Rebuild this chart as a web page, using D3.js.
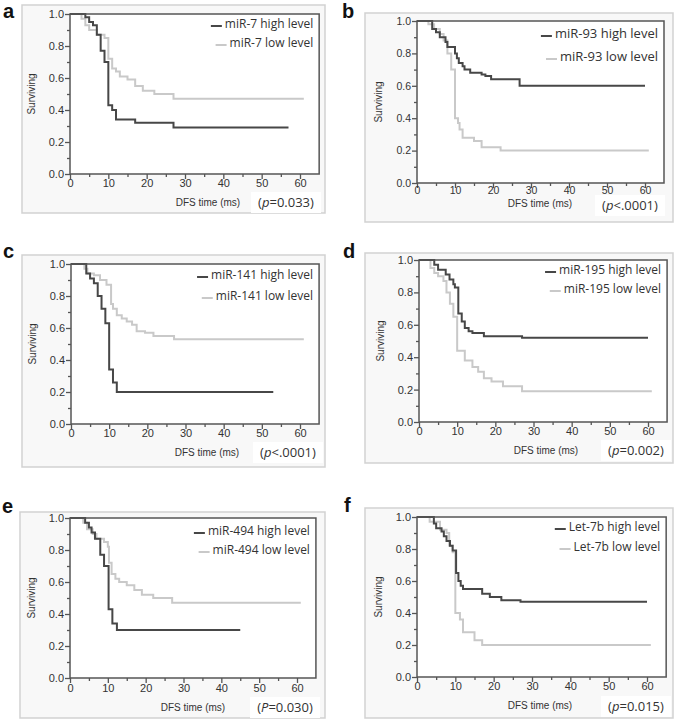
<!DOCTYPE html>
<html>
<head>
<meta charset="utf-8">
<script src="https://cdn.jsdelivr.net/npm/d3@7"></script>
<style>
  html, body { margin: 0; padding: 0; background: #fff; }
  svg { display: block; }
</style>
</head>
<body>
<svg id="chart" width="680" height="723"></svg>
<script>
// ---------- data ----------
const panelLabels = ["a", "b", "c", "d", "e", "f"];
const markerNames = ["miR-7", "miR-93", "miR-141", "miR-195", "miR-494", "Let-7b"];
const pSymbols = ["p", "p", "p", "p", "P", "p"];
const pTexts = ["=0.033", "<.0001", "<.0001", "=0.002", "=0.030", "=0.015"];
const xTicks = [0, 10, 20, 30, 40, 50, 60];
const xMinorTicks = [5, 15, 25, 35, 45, 55];
const yTicks = [0.0, 0.2, 0.4, 0.6, 0.8, 1.0];
const yMinorTicks = [0.1, 0.3, 0.5, 0.7, 0.9];

// Kaplan-Meier steps: [time, survival after step]; last point = end of follow-up
const highA = [[0,1],[4,0.98],[5,0.95],[6,0.93],[7,0.87],[8,0.77],[9,0.70],[10,0.43],[11,0.40],[12,0.34],[17,0.32],[27,0.29],[57,0.29]];
const lowA  = [[0,1],[3,0.97],[4,0.93],[5,0.90],[7,0.87],[9,0.85],[10,0.72],[11,0.66],[12,0.64],[13,0.61],[15,0.59],[17,0.55],[19,0.52],[22,0.50],[27,0.47],[61,0.47]];
const highB = [[0,1],[4,0.95],[5,0.93],[6,0.90],[7.5,0.87],[8,0.84],[10,0.80],[10.5,0.77],[11,0.74],[12,0.72],[12.5,0.70],[14,0.68],[17,0.67],[18,0.66],[19.5,0.64],[27,0.60],[60,0.60]];
const lowB  = [[0,1],[3,0.98],[4.5,0.95],[6,0.92],[7,0.88],[8,0.80],[9,0.70],[10,0.40],[10.8,0.37],[11.2,0.33],[12,0.28],[15,0.26],[17,0.22],[22,0.20],[61,0.20]];
const highC = [[0,1],[4,0.94],[5,0.91],[6,0.88],[7,0.80],[8,0.72],[9,0.63],[10,0.34],[11,0.26],[12,0.20],[53,0.20]];
const lowC  = [[0,1],[3.5,0.97],[4.3,0.94],[6,0.93],[7.6,0.90],[9.3,0.87],[10.5,0.75],[11,0.72],[12,0.68],[13.3,0.66],[14.6,0.64],[16,0.62],[17.2,0.58],[19.4,0.57],[21.6,0.55],[27,0.53],[61,0.53]];
const highD = [[0,1],[4,0.97],[5,0.94],[7,0.91],[8,0.88],[9,0.85],[9.4,0.83],[10.3,0.67],[11.2,0.62],[12,0.58],[13,0.56],[14,0.55],[17,0.53],[27,0.52],[60,0.52]];
const lowD  = [[0,1],[3,0.95],[4,0.92],[5,0.90],[6.4,0.87],[7.2,0.80],[8.1,0.73],[9,0.65],[10,0.44],[12,0.38],[14,0.34],[15.5,0.31],[17,0.27],[19,0.25],[22,0.22],[27,0.19],[61,0.19]];
const highE = [[0,1],[4,0.97],[5,0.94],[5.7,0.91],[6.6,0.87],[8,0.77],[9,0.70],[10.2,0.43],[11.2,0.34],[12.4,0.30],[45,0.30]];
const lowE  = [[0,1],[3.5,0.97],[4.5,0.93],[6,0.90],[7,0.87],[9,0.85],[10,0.82],[10.3,0.72],[11,0.65],[12,0.62],[13,0.60],[15,0.58],[17,0.55],[19,0.52],[22,0.50],[27,0.47],[61,0.47]];
const highF = [[0,1],[4.4,0.96],[5,0.93],[6.4,0.91],[7,0.88],[7.7,0.85],[8.6,0.82],[9.3,0.79],[10.2,0.65],[10.8,0.60],[11.4,0.57],[12,0.55],[17,0.52],[19,0.50],[22,0.48],[27,0.47],[60,0.47]];
const lowF  = [[0,1],[3.3,0.97],[6,0.92],[7.7,0.90],[8.4,0.82],[9.3,0.78],[10,0.40],[11.2,0.36],[12,0.28],[15,0.23],[17,0.20],[61,0.20]];

const highSeries = [highA, highB, highC, highD, highE, highF];
const lowSeries  = [lowA, lowB, lowC, lowD, lowE, lowF];

// ---------- layout (pixels) ----------
const layout = [
  {frame:[22,5,303,208],   x0:70,  x60:300, yTop:14,  yBot:174, lab:[3,18],    leg:[11,30], legFs:12, ttl:[208,29], pc:[286,207], tk:11, tkFs:11},
  {frame:[365,13,308,209], x0:417, x60:645, yTop:21,  yBot:183, lab:[342,18],  leg:[14,37], legFs:13, ttl:[540,21], pc:[630,210], tk:9,  tkFs:10.5},
  {frame:[22,255,303,212], x0:71,  x60:300, yTop:264, yBot:424, lab:[3,258],   leg:[12,33], legFs:12, ttl:[207,29], pc:[288,457], tk:11, tkFs:11},
  {frame:[365,253,308,210],x0:419, x60:648, yTop:260, yBot:422, lab:[343,258], leg:[11,30], legFs:12, ttl:[546,29], pc:[636,455], tk:11, tkFs:11},
  {frame:[20,512,305,206], x0:70,  x60:297, yTop:518, yBot:678, lab:[2,513],   leg:[14,33], legFs:12, ttl:[193,30], pc:[285,712], tk:12, tkFs:11},
  {frame:[365,508,308,210],x0:417, x60:647, yTop:517, yBot:677, lab:[344,512], leg:[11,31], legFs:12, ttl:[540,29], pc:[636,711], tk:11, tkFs:11}
];

const svg = d3.select("#chart");
const axisColor = "#555";
const highColor = "#474747";
const lowColor = "#c9c9c9";

layout.forEach((L, i) => {
  const g = svg.append("g");
  const xEnd = L.x0 + (L.x60 - L.x0) * 65 / 60;
  const x = d3.scaleLinear().domain([0, 65]).range([L.x0, xEnd]);
  const y = d3.scaleLinear().domain([0, 1]).range([L.yBot, L.yTop]);

  // panel letter
  g.append("text").attr("x", L.lab[0]).attr("y", L.lab[1])
    .attr("font-family", "Liberation Sans, Arial, sans-serif")
    .attr("font-weight", "bold").attr("font-size", 20).attr("fill", "#111")
    .text(panelLabels[i]);

  // frame
  g.append("rect").attr("x", L.frame[0]).attr("y", L.frame[1])
    .attr("width", L.frame[2]).attr("height", L.frame[3])
    .attr("fill", "#f8f8f8").attr("stroke", "#d2d2d2").attr("stroke-width", 1.5);

  // plot background
  g.append("rect").attr("x", L.x0).attr("y", L.yTop)
    .attr("width", xEnd - L.x0).attr("height", L.yBot - L.yTop)
    .attr("fill", "#fff");

  // p-value box
  const pBoxW = 70, pBoxH = 21;
  g.append("rect").attr("x", L.pc[0] - pBoxW / 2).attr("y", L.pc[1] - 15)
    .attr("width", pBoxW).attr("height", pBoxH).attr("fill", "#fff");

  // curves
  const line = d3.line().x(d => x(d[0])).y(d => y(d[1])).curve(d3.curveStepAfter);
  g.append("path").datum(lowSeries[i]).attr("d", line)
    .attr("fill", "none").attr("stroke", lowColor).attr("stroke-width", 2);
  g.append("path").datum(highSeries[i]).attr("d", line)
    .attr("fill", "none").attr("stroke", highColor).attr("stroke-width", 2);

  // axes
  const fontAx = "Liberation Sans, Arial, sans-serif";
  const xAxis = g.append("g").attr("transform", `translate(0,${L.yBot})`)
    .call(d3.axisBottom(x).tickValues(xTicks).tickSize(5).tickSizeOuter(0).tickFormat(d3.format("d")));
  const yAxis = g.append("g").attr("transform", `translate(${L.x0},0)`)
    .call(d3.axisLeft(y).tickValues(yTicks).tickSize(5).tickSizeOuter(0).tickFormat(d3.format(".1f")));
  const xMinor = g.append("g").attr("transform", `translate(0,${L.yBot})`)
    .call(d3.axisBottom(x).tickValues(xMinorTicks).tickSize(3).tickSizeOuter(0).tickFormat(""));
  const yMinor = g.append("g").attr("transform", `translate(${L.x0},0)`)
    .call(d3.axisLeft(y).tickValues(yMinorTicks).tickSize(3).tickSizeOuter(0).tickFormat(""));
  [xAxis, yAxis, xMinor, yMinor].forEach(a => {
    a.select(".domain").remove();
    a.selectAll("line").attr("stroke", axisColor).attr("stroke-width", 1.3);
    a.selectAll("text").attr("font-family", fontAx).attr("font-size", L.tkFs).attr("fill", "#333");
  });
  xAxis.selectAll("text").attr("dy", null).attr("y", L.tk - 1).attr("dominant-baseline", "middle");
  yAxis.selectAll("text").attr("x", -6);

  // plot border
  g.append("rect").attr("x", L.x0).attr("y", L.yTop)
    .attr("width", xEnd - L.x0).attr("height", L.yBot - L.yTop)
    .attr("fill", "none").attr("stroke", axisColor).attr("stroke-width", 1.5);

  // axis titles
  g.append("text").attr("x", L.ttl[0]).attr("y", L.yBot + L.ttl[1])
    .attr("dominant-baseline", "middle").attr("text-anchor", "middle")
    .attr("font-family", fontAx).attr("font-size", 10).attr("fill", "#333")
    .text("DFS time (ms)");
  g.append("text")
    .attr("transform", `translate(${L.x0 - 38},${(L.yTop + L.yBot) / 2}) rotate(-90)`)
    .attr("dominant-baseline", "middle").attr("text-anchor", "middle")
    .attr("font-family", fontAx).attr("font-size", 10).attr("fill", "#333")
    .text("Surviving");

  // p-value
  const pt = g.append("text").attr("x", L.pc[0]).attr("y", L.pc[1])
    .attr("text-anchor", "middle")
    .attr("font-family", "Open Sans, sans-serif").attr("font-size", 13).attr("fill", "#333");
  pt.append("tspan").text("(");
  pt.append("tspan").attr("font-style", "italic").text(pSymbols[i]);
  pt.append("tspan").text(pTexts[i] + ")");

  // legend
  const names = [markerNames[i] + " high level", markerNames[i] + " low level"];
  const colors = [highColor, lowColor];
  names.forEach((nm, k) => {
    const ly = L.yTop + L.leg[k];
    const t = g.append("text").attr("x", xEnd - 6).attr("y", ly)
      .attr("text-anchor", "end").attr("dominant-baseline", "middle")
      .attr("font-family", "Open Sans, sans-serif").attr("font-size", L.legFs).attr("fill", "#333")
      .text(nm);
    const w = t.node().getComputedTextLength();
    const start = xEnd - 6 - w;
    g.append("line").attr("x1", start - 14).attr("x2", start - 3)
      .attr("y1", ly + 1).attr("y2", ly + 1)
      .attr("stroke", colors[k]).attr("stroke-width", 2);
  });
});
</script>
</body>
</html>
